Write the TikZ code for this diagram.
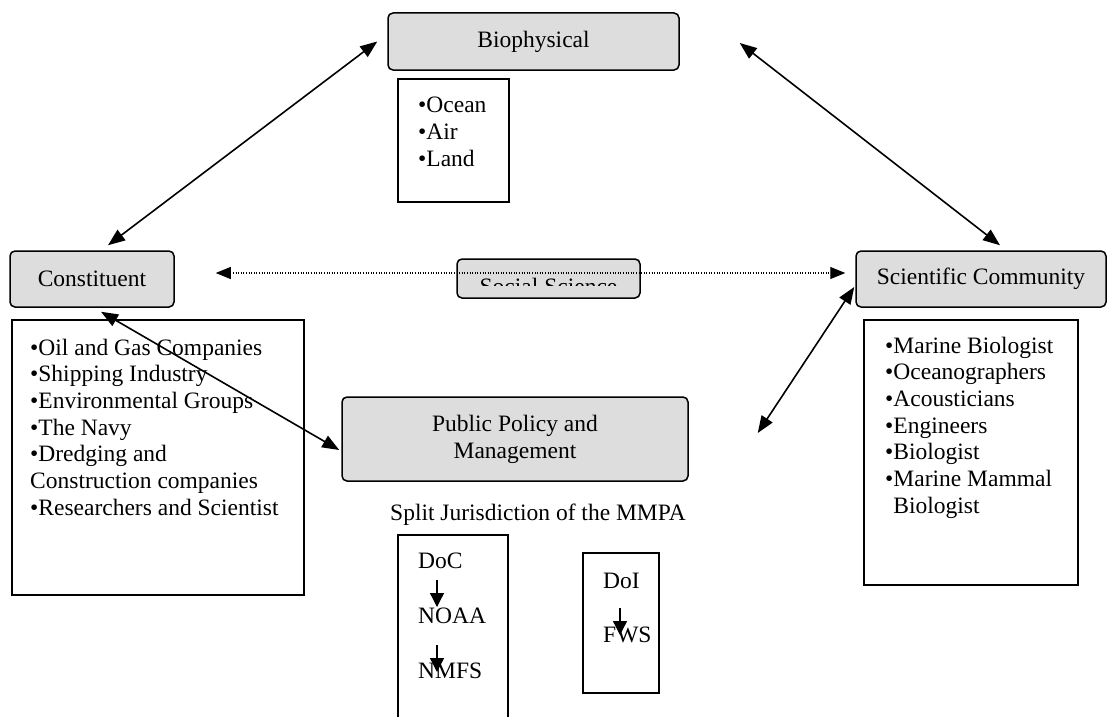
\documentclass[tikz,border=0pt]{standalone}
\usepackage{fontspec}
\setmainfont{Liberation Serif}
\usetikzlibrary{arrows.meta}
\definecolor{boxgray}{RGB}{221,221,221}
\begin{document}
\begin{tikzpicture}[x=1pt,y=-1pt,
  every node/.style={font=\fontsize{23.5}{27}\selectfont, inner sep=0pt},
  hdr/.style={draw, fill=boxgray, rounded corners=5pt, line width=1.5pt},
  listbox/.style={draw, line width=1.3pt},
  link/.style={line width=1.6pt, {Triangle[length=17pt,width=13pt]}-{Triangle[length=17pt,width=13pt]}},
  dotlink/.style={line width=1.1pt, dash pattern=on 1pt off 1.6pt, {Triangle[length=15pt,width=12pt]}-{Triangle[length=15pt,width=12pt]}},
  small/.style={line width=1.3pt, -{Triangle[length=14pt,width=14pt]}}
]
\useasboundingbox (0,0) rectangle (1107,717);

% Biophysical
\node[hdr, minimum width=291pt, minimum height=57pt] (bio) at (533.5,41.5) {Biophysical};
\node[listbox, minimum width=111pt, minimum height=123pt] (biolist) at (453.5,140.5) {};
\foreach \t [count=\i] in {Ocean,Air,Land}
  \node[anchor=base west] (bio\i) at (418,{112+27*(\i-1)}) {•\t};

% Constituent
\node[hdr, minimum width=164pt, minimum height=56pt] (con) at (92,279) {Constituent};
\node[listbox, minimum width=292pt, minimum height=275pt] (conlist) at (158,457.5) {};
\foreach \t [count=\i] in {•Oil and Gas Companies,•Shipping Industry,•Environmental Groups,•The Navy,•Dredging and,Construction companies,•Researchers and Scientist}
  \node[anchor=base west] (con\i) at (30,{355+26.7*(\i-1)}) {\t};

% Scientific Community
\node[hdr, minimum width=250pt, minimum height=56pt] (sci) at (981,279) {Scientific Community};
\node[listbox, minimum width=214pt, minimum height=265pt] (scilist) at (971,452.5) {};
\foreach \t [count=\i] in {•Marine Biologist,•Oceanographers,•Acousticians,•Engineers,•Biologist,•Marine Mammal,\phantom{•}Biologist}
  \node[anchor=base west] (sci\i) at (885,{353+26.7*(\i-1)}) {\t};

% Social Science (clipped text)
\node[hdr, minimum width=183pt, minimum height=39pt] (soc) at (548.5,278.5) {};
\begin{scope}
  \clip (459,261) rectangle (638,285);
  \node[anchor=base] (soctext) at (548.5,294) {Social Science};
\end{scope}

% Public Policy
\node[hdr, minimum width=346pt, minimum height=84pt, align=center] (pp) at (515,439) {Public Policy and\\Management};

% connectors
\draw[link] ([xshift=-10pt]bio.west) -- ([xshift=16pt,yshift=5pt]con.north);
\draw[link] ([xshift=60pt,yshift=-1.5pt]bio.east) -- ([xshift=19pt,yshift=5pt]sci.north);
\draw[link] ([xshift=9pt,yshift=-4pt]con.south) -- ([xshift=-2pt,yshift=-11pt]pp.west);
\draw[link] ([xshift=-1pt,yshift=-8pt]sci.west) -- ([xshift=69pt,yshift=6pt]pp.east);
\draw[dotlink] ([xshift=41pt,yshift=6pt]con.east) -- ([xshift=-10pt,yshift=6pt]sci.west);

% Split jurisdiction
\node[anchor=base west] (split) at (390,520) {Split Jurisdiction of the MMPA};
\draw[listbox] (398,717) |- (508,535) -- (508,717);
\node[anchor=base west] (doc) at (418,568) {DoC};
\node[anchor=base west] (noaa) at (418,623) {NOAA};
\node[anchor=base west] (nmfs) at (418,678) {NMFS};
\draw[small] ([xshift=19pt,yshift=-12pt]doc.base west) -- ([xshift=19pt,yshift=16pt]noaa.base west);
\draw[small] ([xshift=19pt,yshift=-22pt]noaa.base west) -- ([xshift=19pt,yshift=6pt]nmfs.base west);

\node[listbox, minimum width=76pt, minimum height=140pt] (doibox) at (621,623) {};
\node[anchor=base west] (doi) at (603,588) {DoI};
\node[anchor=base west] (fws) at (603,642) {FWS};
\draw[small] ([xshift=17pt,yshift=-20pt]doi.base west) -- ([xshift=17pt,yshift=7pt]fws.base west);
\end{tikzpicture}
\end{document}
